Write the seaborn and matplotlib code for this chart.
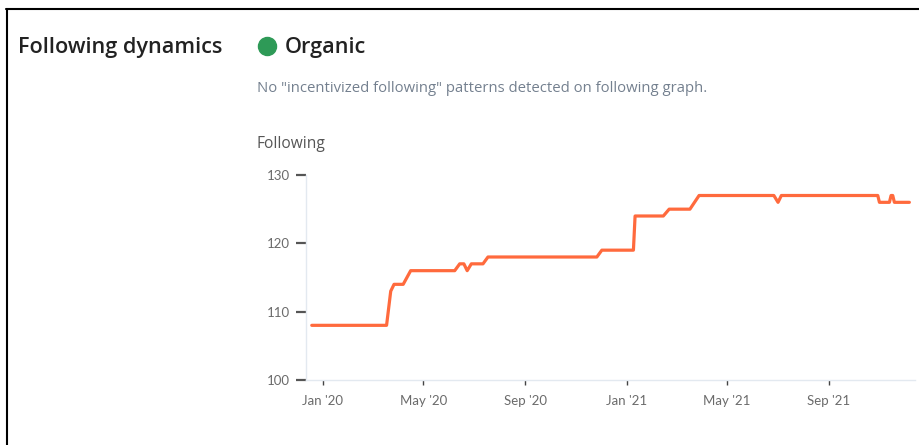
"""Following dynamics — courbe du nombre de comptes suivis."""

import matplotlib.dates as mdates
import matplotlib.pyplot as plt
import pandas as pd
import seaborn as sns
from matplotlib.lines import Line2D

# --- données ---
dates = [
    "2019-12-19", "2020-03-18", "2020-03-23", "2020-03-27", "2020-04-07",
    "2020-04-16", "2020-06-08", "2020-06-14", "2020-06-19", "2020-06-23",
    "2020-06-28", "2020-07-12", "2020-07-18", "2020-11-26", "2020-12-02",
    "2021-01-09", "2021-01-11", "2021-02-14", "2021-02-21", "2021-03-18",
    "2021-03-29", "2021-06-27", "2021-07-02", "2021-07-06", "2021-10-30",
    "2021-11-01", "2021-11-13", "2021-11-15", "2021-11-17", "2021-11-19",
    "2021-12-07",
]
following = [
    108, 108, 113, 114, 114,
    116, 116, 117, 117, 116,
    117, 117, 118, 118, 119,
    119, 124, 124, 125, 125,
    127, 127, 126, 127, 127,
    126, 126, 127, 127, 126,
    126,
]
y_ticks = [100, 110, 120, 130]

title = "Following dynamics"
status = "Organic"
subtitle = 'No "incentivized following" patterns detected on following graph.'
y_label = "Following"

LINE = "#FF6A3D"
TICK_TXT = "#6b6b6b"
HEAD_FONT = ["Open Sans", "DejaVu Sans"]

sns.set_theme(style="white")
plt.rcParams["font.family"] = ["Lato", "DejaVu Sans"]

df = pd.DataFrame({"date": pd.to_datetime(dates), "following": following})

W, H = 920, 445
fig = plt.figure(figsize=(W / 100, H / 100), dpi=100)
fig.patch.set_facecolor("white")


def fx(px):
    return px / W


def fy(py):
    return 1 - py / H


ax = fig.add_axes([fx(306.5), fy(380), fx(915) - fx(306.5), fy(175) - fy(380)])
sns.lineplot(data=df, x="date", y="following", color=LINE, lw=2.3, ax=ax)

ax.set_ylim(100, 130)
ax.set_yticks(y_ticks)
ax.set_xlim(pd.Timestamp("2019-12-12 16:00"), pd.Timestamp("2021-12-13 19:00"))
ax.xaxis.set_major_locator(mdates.MonthLocator(bymonth=[1, 5, 9]))
ax.xaxis.set_major_formatter(mdates.DateFormatter("%b '%y"))
ax.set_xlabel("")
ax.set_ylabel("")

for side in ("top", "right"):
    ax.spines[side].set_visible(False)
ax.spines["left"].set_color("#e3e9f0")
ax.spines["bottom"].set_color("#e3e9f0")
ax.spines["left"].set_linewidth(1)
ax.spines["bottom"].set_linewidth(1)

ax.tick_params(axis="y", length=7, width=1.6, color="#555555", direction="out",
               pad=5, labelsize=9.5, labelcolor=TICK_TXT, left=True)
ax.tick_params(axis="x", length=3.5, width=1, color="#444444", direction="out",
               pad=7, labelsize=9.5, labelcolor=TICK_TXT, bottom=True)
ax.grid(False)

# --- textes d'en-tête ---
fig.text(fx(18), fy(47), title, fontsize=15.6, fontweight="semibold",
         color="#222222", va="center", ha="left", family=HEAD_FONT)
fig.add_artist(Line2D([fx(266.5)], [fy(46)], marker="o", markersize=13,
                      color="#2E9A57", transform=fig.transFigure, lw=0))
fig.text(fx(285), fy(47), status, fontsize=15.6, fontweight="semibold",
         color="#222222", va="center", ha="left", family=HEAD_FONT)
fig.text(fx(257), fy(88), subtitle, fontsize=10.75, color="#74808f",
         va="center", ha="left", family=HEAD_FONT)
fig.text(fx(256), fy(144), y_label, fontsize=11.2, color="#555555",
         va="center", ha="left", family=HEAD_FONT)

# --- cadre noir (haut et gauche) ---
fig.add_artist(Line2D([fx(6), 1], [fy(9), fy(9)], color="black", lw=1.5,
                      transform=fig.transFigure))
fig.add_artist(Line2D([fx(7), fx(7)], [fy(9), 0], color="black", lw=1.5,
                      transform=fig.transFigure))

fig.savefig("out.png", dpi=100)
